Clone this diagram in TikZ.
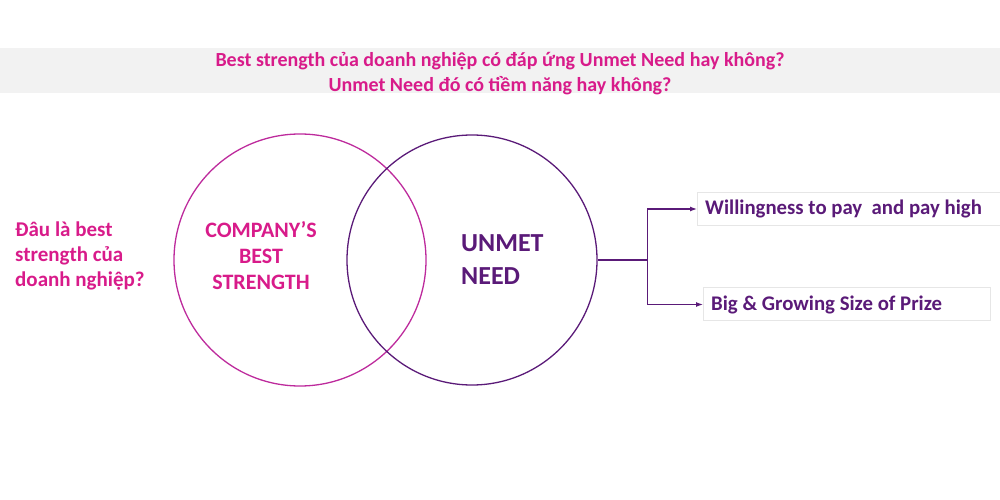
\documentclass[tikz,border=0pt]{standalone}
\usepackage{fontspec}
\setmainfont{Carlito}
\usepackage{xcolor}
\usetikzlibrary{arrows.meta,positioning}

\definecolor{pinkhead}{HTML}{D81B8A}
\definecolor{pinkring}{HTML}{BD2A9C}
\definecolor{plum}{HTML}{5A1A78}
\definecolor{bandgray}{HTML}{F2F2F2}
\definecolor{boxedge}{HTML}{E6E6E6}

\begin{document}
\begin{tikzpicture}[
x=1bp,
y=-1bp,
every node/.style={font=\bfseries},
band/.style={rectangle,fill=bandgray,minimum width=1000bp,minimum height=45bp,inner sep=0pt},
headline/.style={align=center,text=pinkhead,font=\bfseries\fontsize{20bp}{25bp}\selectfont},
ring/.style={circle,draw,line width=1.3pt,inner sep=0pt},
incircle/.style={align=center,font=\bfseries\fontsize{22bp}{26bp}\selectfont},
askleft/.style={align=left,text=pinkhead,anchor=west,inner sep=0pt,font=\bfseries\fontsize{21bp}{25bp}\selectfont},
outtext/.style={anchor=west,text=plum,inner xsep=8bp,inner ysep=0pt,minimum height=33bp,font=\bfseries\fontsize{20.8bp}{24bp}\selectfont},
outbox/.style={draw=boxedge,line width=0.8pt},
arr/.style={-{Latex[length=7bp,width=5bp]},draw=plum,line width=1.2pt}
]
\useasboundingbox (0,0) rectangle (1000,500);

\node[band] (band) at (500,70.5) {};
\node[headline] (title) at (500,73.5) {Best strength của doanh nghiệp có đáp ứng Unmet Need hay không?\\Unmet Need đó có tiềm năng hay không?};

\node[ring,draw=pinkring,minimum size=252bp] (strength) at (300,260) {};
\node[ring,draw=plum,minimum size=250bp] (need) at (472,260) {};

\node[incircle,text=pinkhead] (strtext) at (261,256) {COMPANY’S\\BEST\\STRENGTH};
\node[incircle,text=plum,align=left,anchor=west,inner sep=0pt,font=\bfseries\fontsize{26bp}{33bp}\selectfont] (needtext) at (461,259.5) {UNMET\\NEED};

\node[askleft] (ask) at (15,256) {Đâu là best\\strength của\\doanh nghiệp?};

\node[outtext] (pay) at (697,209) {Willingness to pay\ \ and pay high};
\node[outtext] (prize) at (703,304.5) {Big \& Growing Size of Prize};
\draw[outbox] (pay.north west) rectangle ++(305,33);
\draw[outbox] (prize.north west) rectangle ++(287,33);

\draw[plum,line width=1.2pt] (need.east) -- ++(50,0) coordinate (fork);
\draw[arr] (fork) |- (pay.west);
\draw[arr] (fork) |- (prize.west);
\end{tikzpicture}
\end{document}
